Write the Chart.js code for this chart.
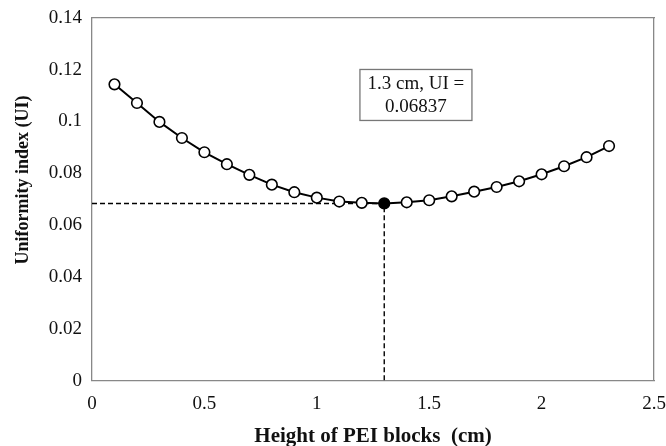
<!DOCTYPE html>
<html>
<head>
<meta charset="utf-8">
<script src="https://cdn.jsdelivr.net/npm/chart.js@4"></script>
<style>
  html, body { margin: 0; padding: 0; background: #fff; }
  #wrap { width: 666px; height: 446px; }
</style>
</head>
<body>
<div id="wrap"><canvas id="grafica" width="666" height="446"></canvas></div>
<script>
// altura de los bloques (cm) y su indice de uniformidad
const alturas = [0.1, 0.2, 0.3, 0.4, 0.5, 0.6, 0.7, 0.8, 0.9, 1.0, 1.1, 1.2,
                 1.3, 1.4, 1.5, 1.6, 1.7, 1.8, 1.9, 2.0, 2.1, 2.2, 2.3];
const indiceUI = [0.1143, 0.1071, 0.0998, 0.0936, 0.0881, 0.0835, 0.0794, 0.0756,
                  0.0727, 0.0706, 0.0691, 0.0686, 0.06837, 0.0688, 0.0696, 0.0711,
                  0.0729, 0.0747, 0.0769, 0.0796, 0.0827, 0.0862, 0.0905];
const minimoX = 1.3;
const minimoUI = 0.06837;
const etiquetaMinimo = ['1.3 cm, UI =', '0.06837'];
const tituloX = 'Height of PEI blocks  (cm)';
const tituloY = 'Uniformity index (UI)';

const SERIF = '"Liberation Serif", "Times New Roman", serif';
const gris = '#888888';

const puntos = alturas.map((x, i) => ({ x: x, y: indiceUI[i] }));
const guias = [{ x: 0, y: minimoUI }, { x: minimoX, y: minimoUI }, { x: minimoX, y: 0 }];

const numero = v => String(Math.round(v * 100) / 100);

// titulo del eje Y y cuadro de la anotacion
const extras = {
  id: 'extras',
  afterDraw(chart) {
    const ctx = chart.ctx;
    const xs = chart.scales.x, ys = chart.scales.y;
    ctx.save();
    // cuadro
    const cx = xs.getPixelForValue(1.441);
    const cy = ys.getPixelForValue(0.1102);
    const w = 112, h = 51;
    ctx.fillStyle = '#fff';
    ctx.fillRect(cx - w / 2, cy - h / 2, w, h);
    ctx.strokeStyle = '#777';
    ctx.lineWidth = 1.3;
    ctx.strokeRect(cx - w / 2, cy - h / 2, w, h);
    ctx.fillStyle = '#111';
    ctx.font = '19px ' + SERIF;
    ctx.textAlign = 'center';
    ctx.textBaseline = 'middle';
    ctx.fillText(etiquetaMinimo[0], cx, cy - 11);
    ctx.fillText(etiquetaMinimo[1], cx, cy + 12);
    // titulo Y
    ctx.translate(23, 180);
    ctx.rotate(-Math.PI / 2);
    ctx.font = 'bold 18px ' + SERIF;
    ctx.fillText(tituloY, 0, 0);
    ctx.restore();
  }
};

new Chart(document.getElementById('grafica'), {
  type: 'scatter',
  data: {
    datasets: [
      {
        label: 'UI',
        data: puntos,
        showLine: true,
        borderColor: '#000',
        borderWidth: 2,
        pointRadius: 5.3,
        pointBorderWidth: 1.6,
        pointBorderColor: '#000',
        pointBackgroundColor: alturas.map(x => x === minimoX ? '#000' : '#fff'),
        order: 1
      },
      {
        label: 'minimo',
        data: guias,
        showLine: true,
        borderColor: '#000',
        borderWidth: 1.4,
        borderDash: [5, 3],
        pointRadius: 0,
        order: 2
      }
    ]
  },
  options: {
    responsive: false,
    animation: false,
    layout: { padding: { top: 17.7, right: 12, left: 0, bottom: 0 } },
    plugins: { legend: { display: false }, tooltip: { enabled: false } },
    scales: {
      x: {
        type: 'linear',
        min: 0, max: 2.5,
        ticks: { stepSize: 0.5, color: '#111', padding: 7, font: { family: SERIF, size: 19 },
                 callback: numero },
        grid: { display: false, drawTicks: true, tickLength: 5, tickColor: gris },
        border: { color: gris, width: 1.3 },
        title: { display: true, text: tituloX, color: '#111', padding: { top: 0, bottom: -3 },
                 font: { family: SERIF, size: 21, weight: 'bold' } },
        afterFit(s) { s.height = 65.3; s.paddingLeft = 0; s.paddingRight = 0; }
      },
      y: {
        min: 0, max: 0.14,
        ticks: { stepSize: 0.02, color: '#111', padding: 5, font: { family: SERIF, size: 19 },
                 callback: numero },
        grid: { display: false, drawTicks: true, tickLength: 5, tickColor: gris },
        border: { color: gris, width: 1.3 },
        afterFit(s) { s.width = 92; s.paddingTop = 0; s.paddingBottom = 0; }
      },
      x2: { position: 'top', display: true, min: 0, max: 2.5, ticks: { display: false },
            grid: { display: false, drawTicks: false }, border: { color: gris, width: 1.3 },
            afterFit(s) { s.height = 0; s.paddingLeft = 0; s.paddingRight = 0; } },
      y2: { position: 'right', display: true, min: 0, max: 0.14, ticks: { display: false },
            grid: { display: false, drawTicks: false }, border: { color: gris, width: 1.3 },
            afterFit(s) { s.width = 0; s.paddingTop = 0; s.paddingBottom = 0; } }
    }
  },
  plugins: [extras]
});
</script>
</body>
</html>
